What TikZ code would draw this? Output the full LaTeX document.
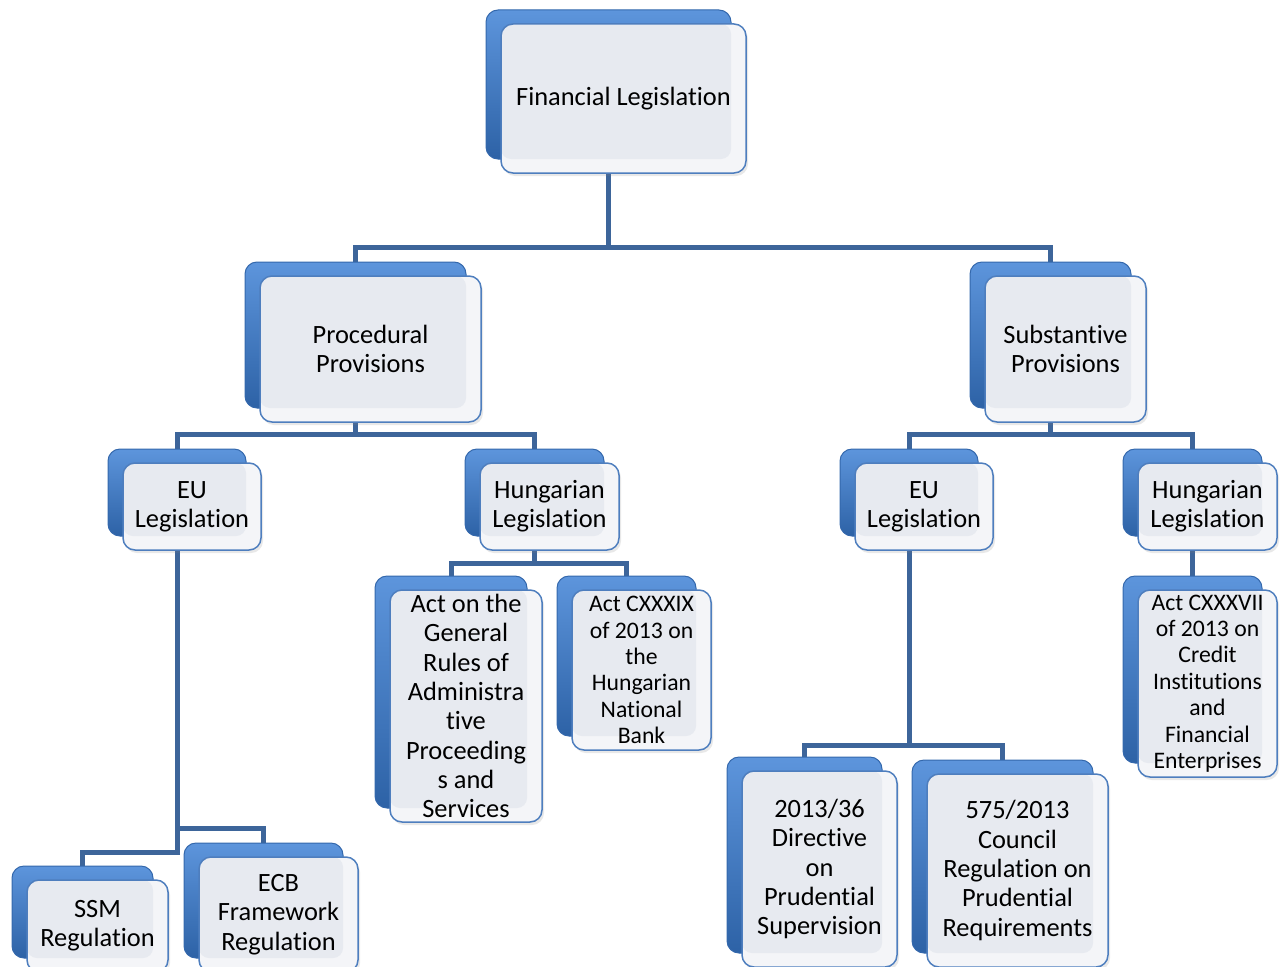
\documentclass[tikz,border=0pt]{standalone}
\usepackage{fontspec}
\setmainfont{Carlito}[Ligatures=NoCommon]
\usetikzlibrary{shadows,calc}
\definecolor{connc}{HTML}{3D659A}
\definecolor{backtop}{HTML}{5D95DC}
\definecolor{backmid}{HTML}{3F7ECD}
\definecolor{backbot}{HTML}{2D62A6}
\definecolor{backline}{HTML}{3468AC}
\definecolor{frontline}{HTML}{4E7EBE}
\definecolor{frontband}{HTML}{F4F5F8}
\definecolor{frontin}{HTML}{E7EAF0}
\pgfdeclarelayer{bg}
\pgfsetlayers{bg,main}
\tikzset{
  backbox/.style={draw=backline, line width=1pt, rounded corners=12pt,
    top color=backtop, middle color=backmid, bottom color=backbot,
    inner sep=0pt, outer sep=0pt, anchor=north west},
  frontbox/.style={draw=frontline, line width=1.5pt, rounded corners=12pt,
    fill=frontband, inner sep=0pt, outer sep=0pt, anchor=north west,
    align=center, text=black,
    drop shadow={shadow xshift=2pt, shadow yshift=-3pt, opacity=0.18},
    path picture={\fill[frontin, rounded corners=10pt]
      (path picture bounding box.north west) rectangle
      ([xshift=-15pt,yshift=14pt]path picture bounding box.south east);}},
  bigtext/.style={font=\fontsize{26.4}{29.3}\selectfont},
  smalltext/.style={font=\fontsize{23.7}{26.4}\selectfont},
  connector/.style={draw=connc, line width=5pt, line join=miter}
}
% #1 name, #2 x1, #3 y1, #4 x2, #5 y2 (back box), #6 text style, #7 text
\newcommand\pairbox[7]{%
  \node[backbox, minimum width={(#4-#2)*1pt}, minimum height={(#5-#3)*1pt}]
    (#1b) at (#2,#3) {};
  \node[frontbox, #6, minimum width={(#4-#2)*1pt}, minimum height={(#5-#3)*1pt}]
    (#1) at (#2+15,#3+14) {#7};
}
\begin{document}
\begin{tikzpicture}[x=1pt,y=-1pt]
\useasboundingbox (0,0) rectangle (1284,966);
\clip (0,0) rectangle (1284,966);
\pairbox{FL}{486}{10}{731}{159}{bigtext}{Financial Legislation}
\pairbox{PP}{245}{262}{466}{408}{bigtext}{Procedural\\Provisions}
\pairbox{SP}{970}{262}{1131}{408}{bigtext}{Substantive\\Provisions}
\pairbox{EUL}{108}{449}{246}{536}{bigtext}{EU\\Legislation}
\pairbox{HUL}{465}{449}{604}{536}{bigtext}{Hungarian\\Legislation}
\pairbox{EUR}{840}{449}{978}{536}{bigtext}{EU\\Legislation}
\pairbox{HUR}{1123}{449}{1262}{536}{bigtext}{Hungarian\\Legislation}
\pairbox{AGR}{375}{576}{527}{808}{bigtext}{Act on the\\General\\Rules of\\Administra\\tive\\Proceeding\\s and\\Services}
\pairbox{CXA}{557}{576}{696}{736}{smalltext}{Act CXXXIX\\of 2013 on\\the\\Hungarian\\National\\Bank}
\pairbox{CXB}{1123}{576}{1262}{763}{smalltext}{Act CXXXVII\\of 2013 on\\Credit\\Institutions\\and\\Financial\\Enterprises}
\pairbox{SSM}{12}{866}{153}{958}{bigtext}{SSM\\Regulation}
\pairbox{ECB}{184}{843}{343}{958}{bigtext}{ECB\\Framework\\Regulation}
\pairbox{DIR}{727}{757}{882}{953}{bigtext}{2013/36\\Directive\\on\\Prudential\\Supervision}
\pairbox{CRR}{912}{760}{1093}{953}{bigtext}{575/2013\\Council\\Regulation on\\Prudential\\Requirements}
\coordinate (j1) at (0,247);
\coordinate (j2) at (0,434);
\coordinate (j3) at (0,563);
\coordinate (j4) at (0,745);
\coordinate (j5) at (0,828);
\coordinate (j6) at (0,852);
\begin{pgfonlayer}{bg}
\draw[connector] (FLb.center) -- (FLb.center |- j1) -| (PPb.center);
\draw[connector] (FLb.center |- j1) -| (SPb.center);
\draw[connector] (PPb.center) -- (PPb.center |- j2) -| (EULb.center);
\draw[connector] (PPb.center |- j2) -| (HULb.center);
\draw[connector] (SPb.center) -- (SPb.center |- j2) -| (EURb.center);
\draw[connector] (SPb.center |- j2) -| (HURb.center);
\draw[connector] (HULb.center) -- (HULb.center |- j3) -| (AGRb.center);
\draw[connector] (HULb.center |- j3) -| (CXAb.center);
\draw[connector] (HURb.center) -- (CXBb.center);
\draw[connector] (EURb.center) -- (EURb.center |- j4) -| (DIRb.center);
\draw[connector] (EURb.center |- j4) -| (CRRb.center);
\draw[connector] (EULb.center) -- (EULb.center |- j6) -| (SSMb.center);
\draw[connector] (EULb.center |- j5) -| (ECBb.center);
\end{pgfonlayer}
\end{tikzpicture}
\end{document}
